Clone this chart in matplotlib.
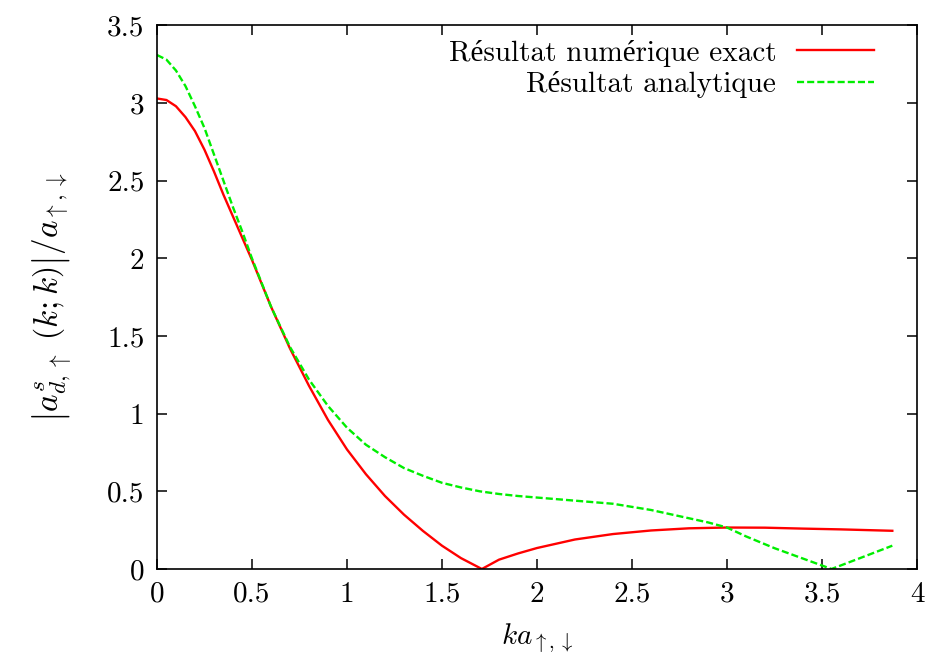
import matplotlib
matplotlib.use("Agg")
import matplotlib.pyplot as plt

# exact numerical result (red)
x_num = [0.0, 0.05, 0.1, 0.15, 0.2, 0.25, 0.3, 0.35, 0.4, 0.45, 0.5, 0.6,
         0.7, 0.8, 0.9, 1.0, 1.1, 1.2, 1.3, 1.4, 1.5, 1.6, 1.71, 1.8, 1.9,
         2.0, 2.2, 2.4, 2.6, 2.8, 3.0, 3.2, 3.4, 3.6, 3.87]
y_num = [3.03, 3.02, 2.98, 2.91, 2.82, 2.70, 2.56, 2.41, 2.27, 2.13, 1.99,
         1.69, 1.42, 1.18, 0.96, 0.77, 0.61, 0.47, 0.35, 0.245, 0.15, 0.07,
         0.0, 0.06, 0.1, 0.135, 0.19, 0.225, 0.248, 0.262, 0.267, 0.266,
         0.26, 0.255, 0.246]

# analytical result (green)
x_ana = [0.0, 0.05, 0.1, 0.15, 0.2, 0.25, 0.3, 0.35, 0.4, 0.45, 0.5, 0.6,
         0.7, 0.8, 0.9, 1.0, 1.1, 1.2, 1.3, 1.4, 1.5, 1.6, 1.7, 1.8, 1.9,
         2.0, 2.2, 2.4, 2.5, 2.6, 2.75, 2.9, 3.0, 3.1, 3.25, 3.4, 3.55, 3.7,
         3.87]
y_ana = [3.31, 3.28, 3.21, 3.11, 2.98, 2.84, 2.67, 2.50, 2.33, 2.17, 2.0,
         1.69, 1.43, 1.22, 1.05, 0.91, 0.80, 0.72, 0.65, 0.60, 0.555, 0.525,
         0.50, 0.483, 0.47, 0.46, 0.44, 0.42, 0.40, 0.38, 0.34, 0.30, 0.267,
         0.21, 0.134, 0.067, 0.0, 0.07, 0.15]

xticks = [0, 0.5, 1, 1.5, 2, 2.5, 3, 3.5, 4]
yticks = [0, 0.5, 1, 1.5, 2, 2.5, 3, 3.5]

plt.rcParams['font.family'] = ['cmr10', 'Liberation Serif']
plt.rcParams['mathtext.fontset'] = 'cm'
plt.rcParams['axes.formatter.use_mathtext'] = True
plt.rcParams['font.size'] = 21

fig = plt.figure(figsize=(9.26, 6.62), dpi=100)
ax = fig.add_axes([0.1695, 0.1405, 0.8208, 0.821])

ax.plot(x_num, y_num, color='#ff0000', lw=1.7, label='Résultat numérique exact')
ax.plot(x_ana, y_ana, color='#00ee00', lw=1.7, dashes=(3, 1.3),
        label='Résultat analytique')

ax.set_xlim(0, 4)
ax.set_ylim(0, 3.5)
ax.set_xticks(xticks)
ax.set_xticklabels([f"{t:g}" for t in xticks])
ax.set_yticks(yticks)
ax.set_yticklabels([f"{t:g}" for t in yticks])
ax.tick_params(direction='in', length=7, width=1.1, top=True, right=True,
               pad=9)
for s in ax.spines.values():
    s.set_linewidth(1.2)

ax.set_xlabel(r'$ka_{\uparrow,\downarrow}$', labelpad=10)
ax.set_ylabel(r'$\left|a^{s}_{d,\uparrow}\ \left(k;k\right)\right|/a_{\uparrow,\downarrow}$',
              fontsize=24, labelpad=24)

ax.legend(loc='upper right', bbox_to_anchor=(0.955, 0.99), frameon=False,
          markerfirst=False, handlelength=2.65, handletextpad=0.7,
          labelspacing=0.15, borderaxespad=0.1, borderpad=0.2)

fig.savefig('out.png', dpi=100)
